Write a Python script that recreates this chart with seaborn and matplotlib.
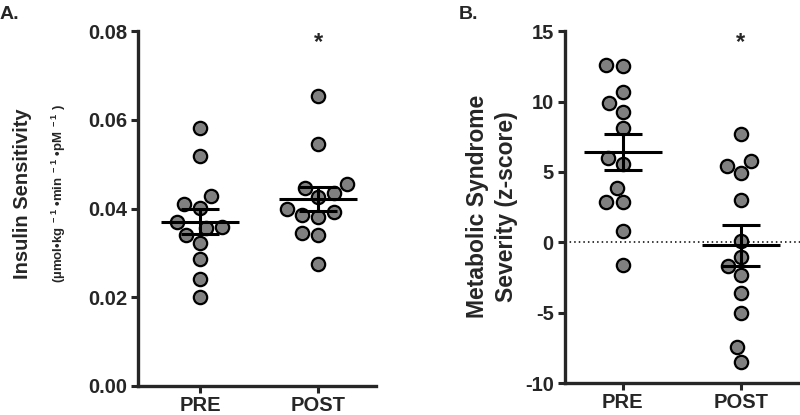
import numpy as np
import pandas as pd
import matplotlib
matplotlib.use("Agg")
import matplotlib.pyplot as plt
import seaborn as sns

# values
groups = ["PRE", "POST"]
insulin_pre = [0.0582, 0.0518, 0.0428, 0.0410, 0.0402, 0.0370, 0.0358,
               0.0356, 0.0340, 0.0323, 0.0286, 0.0241, 0.0201]
insulin_post = [0.0654, 0.0545, 0.0455, 0.0446, 0.0435, 0.0426, 0.0400,
                0.0392, 0.0385, 0.0381, 0.0345, 0.0340, 0.0275]
mets_pre = [12.54, 12.59, 10.69, 9.86, 9.27, 8.09, 5.96, 5.53, 3.87,
            2.83, 2.83, 0.80, -1.62]
mets_post = [7.66, 5.79, 5.43, 4.90, 3.00, 0.10, -1.03, -1.67, -2.33,
             -3.59, -5.05, -7.42, -8.49]

sns.set_style("ticks")
plt.rcParams["font.family"] = ["Liberation Sans", "DejaVu Sans"]
plt.rcParams["font.weight"] = "bold"
plt.rcParams["axes.unicode_minus"] = False
plt.rcParams["mathtext.fontset"] = "custom"
plt.rcParams["mathtext.rm"] = "Liberation Sans:bold"
plt.rcParams["mathtext.bf"] = "Liberation Sans:bold"

fig = plt.figure(figsize=(8, 4.15), dpi=100)
axA = fig.add_axes([0.1725, 0.07, 0.2975, 0.855])
axB = fig.add_axes([0.706, 0.077, 0.294, 0.848])


def panel(ax, pre, post):
    df = pd.DataFrame({"group": ["PRE"] * len(pre) + ["POST"] * len(post),
                       "value": pre + post})
    sns.swarmplot(data=df, x="group", y="value", order=groups, ax=ax,
                  color="#808080", edgecolor="black", linewidth=1.6,
                  size=9.6, zorder=2)
    stats = df.groupby("group")["value"].agg(["mean", "sem"]).loc[groups]
    for i, (m, s) in enumerate(zip(stats["mean"], stats["sem"])):
        ax.hlines(m, i - 0.33, i + 0.33, color="black", lw=2.2, zorder=4)
        ax.errorbar(i, m, yerr=s, color="black", lw=2.2, capsize=13.5,
                    capthick=2.2, zorder=4)
    for side in ["top", "right"]:
        ax.spines[side].set_visible(False)
    for side in ["left", "bottom"]:
        ax.spines[side].set_linewidth(2.4)
    ax.tick_params(width=2.2, length=5, pad=3)
    ax.tick_params(axis="y", labelsize=14.5)
    ax.tick_params(axis="x", labelsize=14.5, pad=2)
    ax.set_xlabel("")
    ax.set_ylabel("")
    for lab in ax.get_xticklabels() + ax.get_yticklabels():
        lab.set_fontweight("bold")


panel(axA, insulin_pre, insulin_post)
axA.set_ylim(0, 0.08)
axA.set_yticks([0.00, 0.02, 0.04, 0.06, 0.08])
axA.set_yticklabels(["0.00", "0.02", "0.04", "0.06", "0.08"])
axA.set_xlim(-0.525, 1.49)
axA.text(1, 0.0775, "*", ha="center", va="center", fontsize=17,
         fontweight="bold")

panel(axB, mets_pre, mets_post)
axB.set_ylim(-10, 15)
axB.set_yticks([-10, -5, 0, 5, 10, 15])
axB.set_yticklabels(["-10", "-5", "0", "5", "10", "15"])
axB.set_xlim(-0.49, 1.5)
axB.axhline(0, color="black", lw=1.1, ls=(0, (1, 2)), zorder=1)
axB.text(1, 14.2, "*", ha="center", va="center", fontsize=17,
         fontweight="bold")

# axis titles
fig.text(0.028, 0.533, "Insulin Sensitivity", rotation=90, ha="center",
         va="center", fontsize=14.5, fontweight="bold")
fig.text(0.074, 0.533,
         r"(µmol•kg$^{\ -1}$ •min$^{\ -1}$ •pM$^{\ -1}$ )",
         rotation=90, ha="center", va="center", fontsize=9.5,
         fontweight="bold")
fig.text(0.615, 0.503, "Metabolic Syndrome\nSeverity (z-score)", rotation=90,
         ha="center", va="center", fontsize=16.5, fontweight="bold",
         linespacing=1.3)

fig.text(0.0, 0.985, "A.", ha="left", va="top", fontsize=14,
         fontweight="bold")
fig.text(0.574, 0.985, "B.", ha="left", va="top", fontsize=14,
         fontweight="bold")

fig.savefig("out.png", dpi=100)
